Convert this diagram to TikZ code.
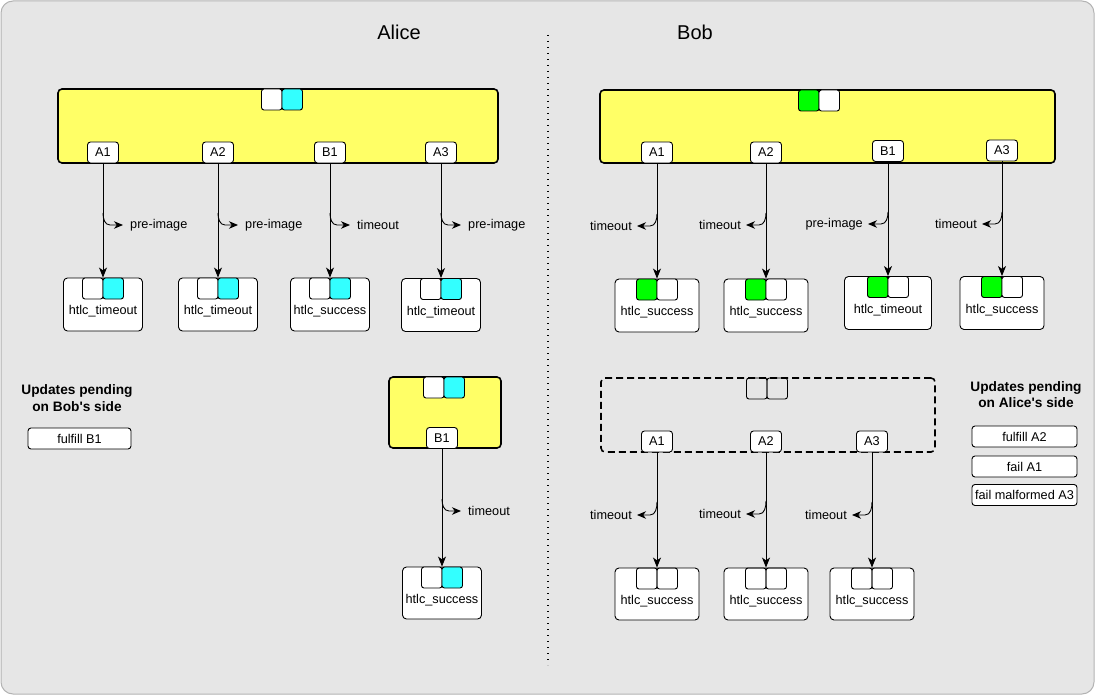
\documentclass[tikz,border=0pt]{standalone}
\usepackage{fontspec}
\setmainfont{Liberation Sans}
\usetikzlibrary{arrows.meta}
\definecolor{panel}{HTML}{E6E6E6}
\definecolor{panelline}{HTML}{B3B3B3}
\definecolor{txyellow}{HTML}{FFFF66}
\definecolor{sigcyan}{HTML}{33FFFF}
\definecolor{siggreen}{HTML}{00FF00}

\begin{document}
\begin{tikzpicture}[x=1pt,y=-1pt]
\tikzstyle{every node}+=[inner sep=0pt, font=\fontsize{12.7}{15}\selectfont]
\tikzstyle{txbox}=[draw=black, line width=1.6pt, rounded corners=4pt, fill=txyellow]
\tikzstyle{dashbox}=[draw=black, line width=1.6pt, rounded corners=4pt, dash pattern=on 7pt off 4pt]
\tikzstyle{sig}=[draw=black, line width=0.9pt, rounded corners=2.5pt, minimum width=20.5pt, minimum height=21pt]
\tikzstyle{tag}=[draw=black, line width=0.9pt, fill=white, rounded corners=3pt, minimum width=31pt, minimum height=21pt]
\tikzstyle{htlc}=[draw=black, line width=0.9pt, fill=white, rounded corners=4pt, minimum height=53pt]
\tikzstyle{pending}=[draw=black, line width=0.9pt, fill=white, rounded corners=3pt, minimum height=21pt]
\tikzstyle{flow}=[draw=black, line width=0.9pt, -{Stealth[length=10pt,width=8pt,inset=2.8pt]}]
\tikzstyle{side}=[draw=black, line width=0.9pt, -{Stealth[length=9pt,width=7.5pt,inset=2.8pt]}]
\tikzstyle{heading}=[font=\bfseries\fontsize{13.7}{16.5}\selectfont, align=center]
\useasboundingbox (0,0) rectangle (1095,695);
\draw [panelline, fill=panel, line width=1pt, rounded corners=12pt] (1,1) rectangle (1094,694);
\draw [black, line width=1.3pt, dash pattern=on 1.3pt off 4.7pt] (548,35) -- (548,665);
\node [font=\fontsize{20}{24}\selectfont] (alice) at (399,32) {Alice};
\node [font=\fontsize{20}{24}\selectfont] (bob) at (695,32) {Bob};

\node [txbox, minimum width=440pt, minimum height=74pt] (aTx) at (278,126) {};
\node [sig, fill=white] (aTxL) at (271.75,99.5) {};
\node [sig, fill=sigcyan] (aTxR) at (292.25,99.5) {};
\node [tag] (aA1) at (103,152.5) {A1};
\node [tag] (aA2) at (218,152.5) {A2};
\node [tag] (aB1) at (330,152.5) {B1};
\node [tag] (aA3) at (441,152.5) {A3};
\node [htlc, minimum width=79pt] (haA1) at (103,304.5) {};
\node [sig, fill=white] at (92.75,288.5) {};
\node [sig, fill=sigcyan] at (113.25,288.5) {};
\node (thaA1) at (103,311) {htlc\_timeout};
\node [htlc, minimum width=79pt] (haA2) at (218,304.5) {};
\node [sig, fill=white] at (207.75,288.5) {};
\node [sig, fill=sigcyan] at (228.25,288.5) {};
\node (thaA2) at (218,311) {htlc\_timeout};
\node [htlc, minimum width=79pt] (haB1) at (330,304.5) {};
\node [sig, fill=white] at (319.75,288.5) {};
\node [sig, fill=sigcyan] at (340.25,288.5) {};
\node (thaB1) at (330,311) {htlc\_success};
\node [htlc, minimum width=79pt] (haA3) at (441,305) {};
\node [sig, fill=white] at (430.75,289) {};
\node [sig, fill=sigcyan] at (451.25,289) {};
\node (thaA3) at (441,312) {htlc\_timeout};
\draw [flow] (aA1) -- (haA1);
\draw [flow] (aA2) -- (haA2);
\draw [flow] (aB1) -- (haB1);
\draw [flow] (aA3) -- (haA3);
\coordinate (saA1) at (103,213);
\coordinate (saA2) at (218,213);
\coordinate (saB1) at (330,213);
\coordinate (saA3) at (441,213);
\node [anchor=west] (laA1) at (130,225) {pre-image};
\node [anchor=west] (laA2) at (245,225) {pre-image};
\node [anchor=west] (laB1) at (357,225) {timeout};
\node [anchor=west] (laA3) at (468,225) {pre-image};
\draw [side] (saA1) to[out=-90,in=180] ++(7,12) -- ([xshift=-7pt]laA1.west);
\draw [side] (saA2) to[out=-90,in=180] ++(7,12) -- ([xshift=-7pt]laA2.west);
\draw [side] (saB1) to[out=-90,in=180] ++(7,12) -- ([xshift=-7pt]laB1.west);
\draw [side] (saA3) to[out=-90,in=180] ++(7,12) -- ([xshift=-7pt]laA3.west);

\node [heading] (aPend) at (77,398) {Updates pending\\on Bob\textquotesingle s side};
\node [pending, minimum width=103pt] (aPB1) at (79.5,438.5) {fulfill B1};

\node [txbox, minimum width=112pt, minimum height=71pt] (aTx2) at (445,412.5) {};
\node [sig, fill=white] (aTx2L) at (433.75,387.5) {};
\node [sig, fill=sigcyan] (aTx2R) at (454.25,387.5) {};
\node [tag] (aB1b) at (442,438) {B1};
\node [htlc, minimum width=79pt, minimum height=52pt] (haB1b) at (442,593) {};
\node [sig, fill=white] at (431.75,577.5) {};
\node [sig, fill=sigcyan] at (452.25,577.5) {};
\node (thaB1b) at (442,600) {htlc\_success};
\draw [flow] (aB1b) -- (haB1b);
\coordinate (saB1b) at (442,499);
\node [anchor=west] (laB1b) at (468,511) {timeout};
\draw [side] (saB1b) to[out=-90,in=180] ++(7,12) -- ([xshift=-7pt]laB1b.west);

\node [txbox, minimum width=455pt, minimum height=73pt] (bTx) at (827.5,126.5) {};
\node [sig, fill=siggreen] (bTxL) at (808.75,100.5) {};
\node [sig, fill=white] (bTxR) at (829.25,100.5) {};
\node [tag] (bA1) at (657,152.5) {A1};
\node [tag] (bA2) at (766,152.5) {A2};
\node [tag] (bB1) at (888,151) {B1};
\node [tag] (bA3) at (1002,150.5) {A3};
\node [htlc, minimum width=84pt] (hbA1) at (657,305.5) {};
\node [sig, fill=siggreen] at (646.75,289.5) {};
\node [sig, fill=white] at (667.25,289.5) {};
\node (thbA1) at (657,312) {htlc\_success};
\node [htlc, minimum width=84pt] (hbA2) at (766,305.5) {};
\node [sig, fill=siggreen] at (755.75,289.5) {};
\node [sig, fill=white] at (776.25,289.5) {};
\node (thbA2) at (766,312) {htlc\_success};
\node [htlc, minimum width=87pt] (hbB1) at (888,303) {};
\node [sig, fill=siggreen] at (877.75,287) {};
\node [sig, fill=white] at (898.25,287) {};
\node (thbB1) at (888,310) {htlc\_timeout};
\node [htlc, minimum width=84pt] (hbA3) at (1002,303) {};
\node [sig, fill=siggreen] at (991.75,287) {};
\node [sig, fill=white] at (1012.25,287) {};
\node (thbA3) at (1002,310) {htlc\_success};
\draw [flow] (bA1) -- (hbA1);
\draw [flow] (bA2) -- (hbA2);
\draw [flow] (bB1) -- (hbB1);
\draw [flow] (bA3) -- (hbA3);
\coordinate (sbA1) at (657,214);
\coordinate (sbA2) at (766,213);
\coordinate (sbB1) at (888,212);
\coordinate (sbA3) at (1002,212);
\node [anchor=east] (lbA1) at (632,226) {timeout};
\node [anchor=east] (lbA2) at (741,225) {timeout};
\node [anchor=east] (lbB1) at (863,224) {pre-image};
\node [anchor=east] (lbA3) at (977,224) {timeout};
\draw [side] (sbA1) to[out=-90,in=0] ++(-7,12) -- ([xshift=5pt]lbA1.east);
\draw [side] (sbA2) to[out=-90,in=0] ++(-7,12) -- ([xshift=5pt]lbA2.east);
\draw [side] (sbB1) to[out=-90,in=0] ++(-7,12) -- ([xshift=5pt]lbB1.east);
\draw [side] (sbA3) to[out=-90,in=0] ++(-7,12) -- ([xshift=5pt]lbA3.east);

\node [dashbox, minimum width=334pt, minimum height=74pt] (bTx2) at (768,415) {};
\node [sig] (bTx2L) at (756.75,388.5) {};
\node [sig] (bTx2R) at (777.25,388.5) {};
\node [tag] (bA1b) at (657,441.5) {A1};
\node [tag] (bA2b) at (766,441.5) {A2};
\node [tag] (bA3b) at (872,441.5) {A3};
\node [htlc, minimum width=84pt, minimum height=52pt] (hbA1b) at (657,594) {};
\node [sig] at (646.75,578.5) {};
\node [sig] at (667.25,578.5) {};
\node (thbA1b) at (657,601) {htlc\_success};
\node [htlc, minimum width=84pt, minimum height=52pt] (hbA2b) at (766,594) {};
\node [sig] at (755.75,578.5) {};
\node [sig] at (776.25,578.5) {};
\node (thbA2b) at (766,601) {htlc\_success};
\node [htlc, minimum width=84pt, minimum height=52pt] (hbA3b) at (872,594) {};
\node [sig] at (861.75,578.5) {};
\node [sig] at (882.25,578.5) {};
\node (thbA3b) at (872,601) {htlc\_success};
\draw [flow] (bA1b) -- (hbA1b);
\draw [flow] (bA2b) -- (hbA2b);
\draw [flow] (bA3b) -- (hbA3b);
\coordinate (sbA1b) at (657,502);
\coordinate (sbA2b) at (766,501);
\coordinate (sbA3b) at (872,502);
\node [anchor=east] (lbA1b) at (632,515) {timeout};
\node [anchor=east] (lbA2b) at (741,514) {timeout};
\node [anchor=east] (lbA3b) at (847,515) {timeout};
\draw [side] (sbA1b) to[out=-90,in=0] ++(-7,13) -- ([xshift=5pt]lbA1b.east);
\draw [side] (sbA2b) to[out=-90,in=0] ++(-7,13) -- ([xshift=5pt]lbA2b.east);
\draw [side] (sbA3b) to[out=-90,in=0] ++(-7,13) -- ([xshift=5pt]lbA3b.east);

\node [heading] (bPend) at (1026,394.5) {Updates pending\\on Alice\textquotesingle s side};
\node [pending, minimum width=105pt] (bPA2) at (1024.5,436.5) {fulfill A2};
\node [pending, minimum width=105pt] (bPA1) at (1024.5,466.5) {fail A1};
\node [pending, minimum width=105pt] (bPA3) at (1024.5,495) {fail malformed A3};
\end{tikzpicture}
\end{document}
